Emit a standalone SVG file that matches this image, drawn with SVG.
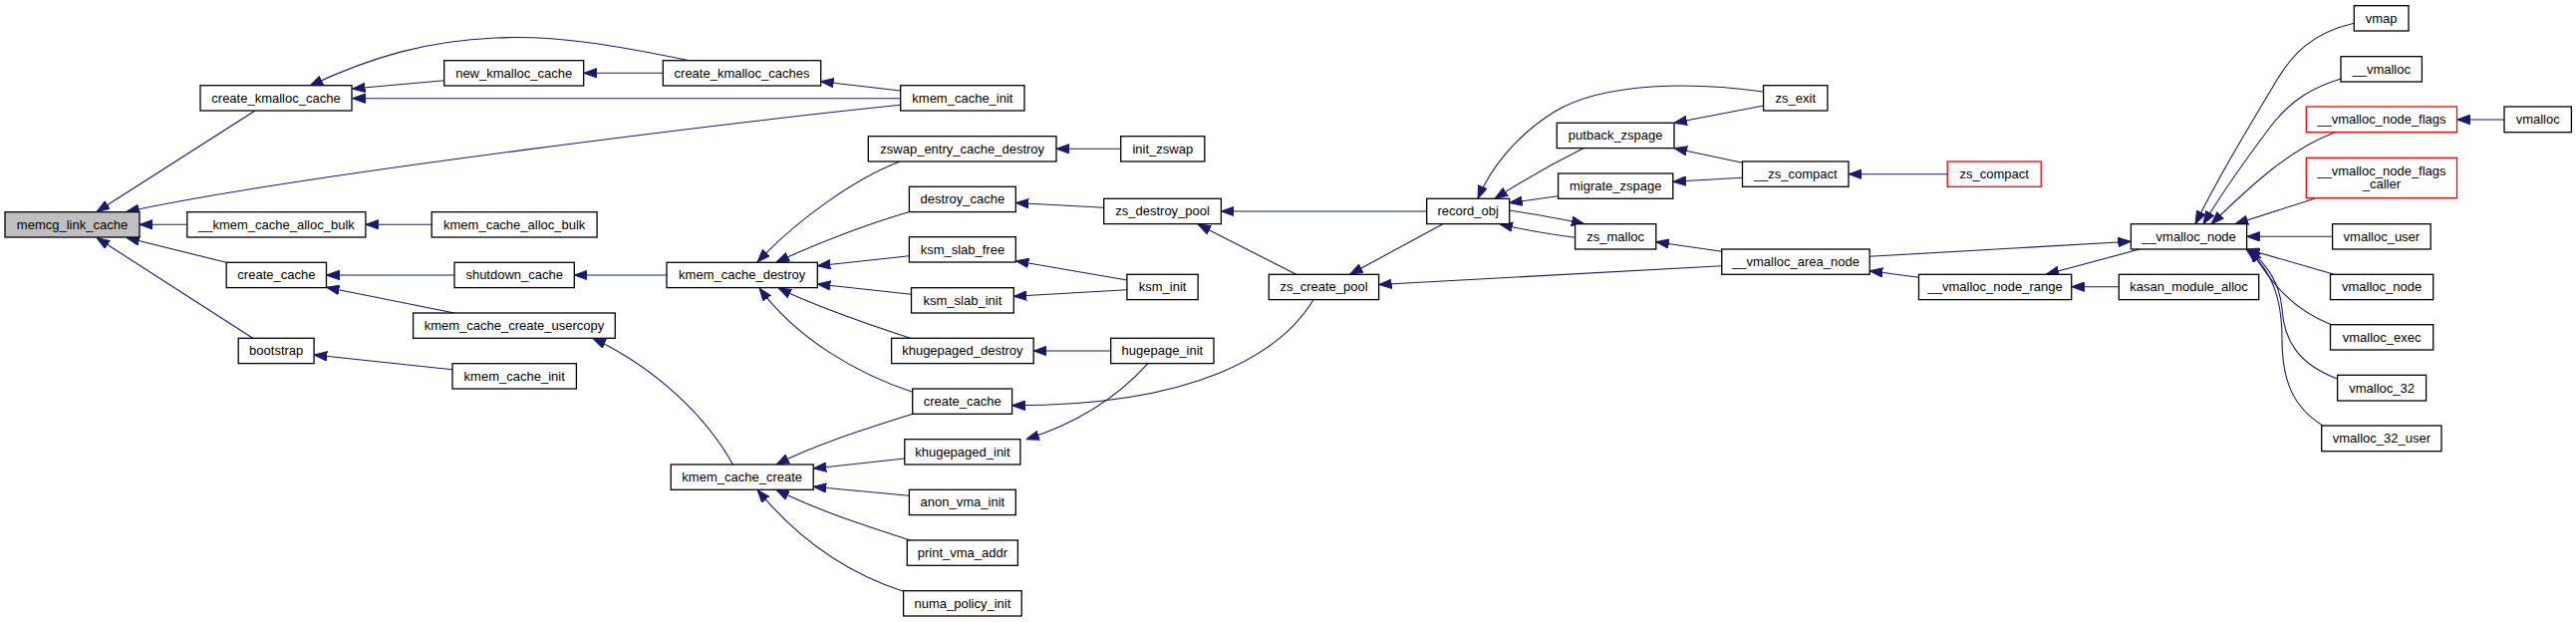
<svg xmlns="http://www.w3.org/2000/svg" width="2585" height="624" viewBox="0 0 2585 624">
<style>
.nd rect{fill:#ffffff;stroke:#000000;stroke-width:1.3}
.nd.root rect{fill:#bfbfbf}
.nd.red rect{stroke:#ff0000}
.nd text{font-family:"Liberation Sans",Arial,Helvetica,sans-serif;font-size:13px;fill:#000000;text-anchor:middle}
#edges path{fill:none;stroke:#191970;stroke-width:1.1;marker-end:url(#ah)}
</style>
<defs>
<marker id="ah" viewBox="0 0 13 10" refX="13" refY="5" markerWidth="13" markerHeight="10" orient="auto" markerUnits="userSpaceOnUse">
<path d="M0,0.3 L13,5 L0,9.7 z" fill="#191970" stroke="#191970" stroke-width="1"/>
</marker>
</defs>
<rect width="2585" height="624" fill="#ffffff"/>
<g id="edges">
<path d="M256,111 L97,212.5"/>
<path d="M903.7,105.3 C760,120 300,175 126.7,212.5"/>
<path d="M187.8,225.3 L140,225.3"/>
<path d="M228,263.5 L127,238.5"/>
<path d="M253.7,339.3 L97,238.5"/>
<path d="M445.7,80.7 L353.5,89"/>
<path d="M691.8,60.7 C620,46 560,35 497,38 C430,41 375,56 311,86"/>
<path d="M903.7,98.7 L353.5,98.7"/>
<path d="M665.3,73.3 L585.8,73.3"/>
<path d="M903.7,91 L823.7,81.7"/>
<path d="M433.2,225.3 L366.9,225.3"/>
<path d="M456,276 L327.5,276"/>
<path d="M456,314 L327.5,288.3"/>
<path d="M454,370.7 L315.2,356"/>
<path d="M669,276 L576.3,276"/>
<path d="M735.4,466 C710,420 660,370 595,339.5"/>
<path d="M903.3,162 C860,178 800,220 760,263"/>
<path d="M913.6,212.3 C880,222 830,240 779,263"/>
<path d="M912.4,256.7 L820.3,266.7"/>
<path d="M914.5,295.3 L820.3,285"/>
<path d="M913.6,339.3 C870,325 820,308 781,289"/>
<path d="M915.7,393.3 C860,375 800,340 762,289"/>
<path d="M1124.7,149.3 L1060,149.3"/>
<path d="M1107.7,208.3 L1019.3,203.5"/>
<path d="M1130.9,281 L1019.3,261.7"/>
<path d="M1130.9,290.7 L1017.3,297.3"/>
<path d="M1114.7,352 L1037.2,352"/>
<path d="M1318,300.7 C1285,355 1200,407 1015.6,406.7"/>
<path d="M1152,364.7 C1120,400 1080,425 1029.7,440.7"/>
<path d="M915.7,415.3 C870,430 820,445 779,466"/>
<path d="M907.8,460 L816.2,470"/>
<path d="M912.4,497.3 L816.2,488.3"/>
<path d="M913.6,542 C870,528 820,512 779,491.3"/>
<path d="M906.6,593.3 C850,575 800,540 760,491.3"/>
<path d="M1431.7,212 L1225.4,212"/>
<path d="M1300.7,275.3 L1202,225"/>
<path d="M1447.9,224.7 L1354.6,275.3"/>
<path d="M1727.8,266.7 L1383.6,285.5"/>
<path d="M1769.6,92 C1700,82 1610,82 1560,112 C1520,137 1495,170 1483,199.3"/>
<path d="M1588.9,148.7 C1560,163 1530,180 1500,199.3"/>
<path d="M1563.6,196.7 L1514.7,203.5"/>
<path d="M1514.7,211 C1540,215 1565,219 1590,224.7"/>
<path d="M1580.6,238.3 C1555,235 1530,231 1505,224.7"/>
<path d="M1769.6,106 L1680,123.3"/>
<path d="M1748.5,163.3 L1680,148.7"/>
<path d="M1748.5,178.3 L1678.8,182.3"/>
<path d="M1727.8,252.3 L1661.8,242.7"/>
<path d="M1954.2,174.7 L1855,174.7"/>
<path d="M1925.5,278.3 L1876.2,271.7"/>
<path d="M1876.2,257.3 L2138.4,242.3"/>
<path d="M2147.2,250 L2053.2,275.3"/>
<path d="M2126.3,287.7 L2078.7,287.7"/>
<path d="M2362.3,23.3 C2320,33 2300,55 2285,80 C2255,130 2225,180 2203,224.7"/>
<path d="M2349,79 C2320,88 2300,100 2280,125 C2255,158 2232,190 2211,224.7"/>
<path d="M2343.5,132.7 C2300,148 2260,185 2219,224.7"/>
<path d="M2322.6,199.3 L2243,224.7"/>
<path d="M2340.6,237.3 L2254.6,237.3"/>
<path d="M2341.4,275 L2254.6,250"/>
<path d="M2339.4,325.7 C2300,310 2280,285 2258,250"/>
<path d="M2345.6,380 C2305,365 2292,340 2290,310 C2288,285 2275,265 2256,250"/>
<path d="M2331,427 C2300,408 2290,380 2290,340 C2290,300 2280,270 2254,250"/>
<path d="M2513,120 L2465.5,120"/>
</g>
<g id="memcg_link_cache" class="nd root"><rect x="5" y="212.7" width="135" height="25.3"/><text x="72.5" y="229.8">memcg_link_cache</text></g>
<g id="create_kmalloc_cache" class="nd"><rect x="201" y="85.7" width="152" height="25.3"/><text x="277" y="102.8">create_kmalloc_cache</text></g>
<g id="new_kmalloc_cache" class="nd"><rect x="445.7" y="60.7" width="140" height="25.3"/><text x="515.7" y="77.8">new_kmalloc_cache</text></g>
<g id="create_kmalloc_caches" class="nd"><rect x="665.3" y="60.7" width="158.4" height="25.3"/><text x="744.5" y="77.8">create_kmalloc_caches</text></g>
<g id="kmem_cache_init_a" class="nd"><rect x="903.7" y="85.7" width="124.3" height="25.3"/><text x="965.9" y="102.8">kmem_cache_init</text></g>
<g id="__kmem_cache_alloc_bulk" class="nd"><rect x="187.8" y="212.7" width="179.1" height="25.3"/><text x="277.4" y="229.8">__kmem_cache_alloc_bulk</text></g>
<g id="kmem_cache_alloc_bulk" class="nd"><rect x="433.2" y="212.7" width="165.9" height="25.3"/><text x="516.2" y="229.8">kmem_cache_alloc_bulk</text></g>
<g id="create_cache_a" class="nd"><rect x="227.2" y="263.3" width="100.3" height="25.3"/><text x="277.4" y="280.4">create_cache</text></g>
<g id="shutdown_cache" class="nd"><rect x="456" y="263.3" width="120.3" height="25.3"/><text x="516.2" y="280.4">shutdown_cache</text></g>
<g id="kmem_cache_create_usercopy" class="nd"><rect x="414.6" y="314" width="202.7" height="25.3"/><text x="516" y="331.1">kmem_cache_create_usercopy</text></g>
<g id="bootstrap" class="nd"><rect x="239.2" y="339.3" width="75.9" height="25.3"/><text x="277.2" y="356.4">bootstrap</text></g>
<g id="kmem_cache_init_b" class="nd"><rect x="454" y="364.7" width="124.4" height="25.3"/><text x="516.2" y="381.8">kmem_cache_init</text></g>
<g id="kmem_cache_destroy" class="nd"><rect x="669" y="263.3" width="151.3" height="25.3"/><text x="744.7" y="280.4">kmem_cache_destroy</text></g>
<g id="zswap_entry_cache_destroy" class="nd"><rect x="871.3" y="136.7" width="188.7" height="25.3"/><text x="965.7" y="153.8">zswap_entry_cache_destroy</text></g>
<g id="init_zswap" class="nd"><rect x="1124.7" y="136.7" width="84.1" height="25.3"/><text x="1166.8" y="153.8">init_zswap</text></g>
<g id="destroy_cache" class="nd"><rect x="912.4" y="187.3" width="106.9" height="25.3"/><text x="965.9" y="204.4">destroy_cache</text></g>
<g id="zs_destroy_pool" class="nd"><rect x="1107.7" y="199.3" width="117.7" height="25.3"/><text x="1166.6" y="216.4">zs_destroy_pool</text></g>
<g id="ksm_slab_free" class="nd"><rect x="912.4" y="237.7" width="106.9" height="25.3"/><text x="965.9" y="254.8">ksm_slab_free</text></g>
<g id="ksm_init" class="nd"><rect x="1130.9" y="275.3" width="71.3" height="25.3"/><text x="1166.6" y="292.4">ksm_init</text></g>
<g id="ksm_slab_init" class="nd"><rect x="914.5" y="288.7" width="102.8" height="25.3"/><text x="965.9" y="305.8">ksm_slab_init</text></g>
<g id="khugepaged_destroy" class="nd"><rect x="894.6" y="339.3" width="142.6" height="25.3"/><text x="965.9" y="356.4">khugepaged_destroy</text></g>
<g id="hugepage_init" class="nd"><rect x="1114.7" y="339.3" width="103.3" height="25.3"/><text x="1166.4" y="356.4">hugepage_init</text></g>
<g id="create_cache_b" class="nd"><rect x="915.7" y="390" width="99.9" height="25.3"/><text x="965.7" y="407.1">create_cache</text></g>
<g id="khugepaged_init" class="nd"><rect x="907.8" y="440.7" width="116.1" height="25.3"/><text x="965.9" y="457.8">khugepaged_init</text></g>
<g id="kmem_cache_create" class="nd"><rect x="673.2" y="466" width="143" height="25.3"/><text x="744.7" y="483.1">kmem_cache_create</text></g>
<g id="anon_vma_init" class="nd"><rect x="912.4" y="491.3" width="106.9" height="25.3"/><text x="965.9" y="508.4">anon_vma_init</text></g>
<g id="print_vma_addr" class="nd"><rect x="910.3" y="542" width="111.1" height="25.3"/><text x="965.9" y="559.1">print_vma_addr</text></g>
<g id="numa_policy_init" class="nd"><rect x="906.6" y="592.7" width="118.6" height="25.3"/><text x="965.9" y="609.8">numa_policy_init</text></g>
<g id="zs_create_pool" class="nd"><rect x="1273.3" y="275.3" width="110.3" height="25.3"/><text x="1328.5" y="292.4">zs_create_pool</text></g>
<g id="record_obj" class="nd"><rect x="1431.7" y="199.3" width="83" height="25.3"/><text x="1473.2" y="216.4">record_obj</text></g>
<g id="zs_exit" class="nd"><rect x="1769.6" y="85.7" width="64.3" height="25.3"/><text x="1801.8" y="102.8">zs_exit</text></g>
<g id="putback_zspage" class="nd"><rect x="1562.3" y="123.3" width="117.7" height="25.3"/><text x="1621.2" y="140.4">putback_zspage</text></g>
<g id="migrate_zspage" class="nd"><rect x="1563.6" y="174" width="115.2" height="25.3"/><text x="1621.2" y="191.1">migrate_zspage</text></g>
<g id="zs_malloc" class="nd"><rect x="1580.6" y="224.7" width="81.2" height="25.3"/><text x="1621.2" y="241.8">zs_malloc</text></g>
<g id="__zs_compact" class="nd"><rect x="1748.5" y="162" width="106.5" height="25.3"/><text x="1801.8" y="179.1">__zs_compact</text></g>
<g id="__vmalloc_area_node" class="nd"><rect x="1727.8" y="250" width="148.4" height="25.3"/><text x="1802" y="267.1">__vmalloc_area_node</text></g>
<g id="zs_compact" class="nd red"><rect x="1954.2" y="162" width="94" height="25.3"/><text x="2001.2" y="179.1">zs_compact</text></g>
<g id="__vmalloc_node" class="nd"><rect x="2138.4" y="224.7" width="116.2" height="25.3"/><text x="2196.5" y="241.8">__vmalloc_node</text></g>
<g id="__vmalloc_node_range" class="nd"><rect x="1925.5" y="275.3" width="153.2" height="25.3"/><text x="2002.1" y="292.4">__vmalloc_node_range</text></g>
<g id="kasan_module_alloc" class="nd"><rect x="2126.3" y="275.3" width="140.4" height="25.3"/><text x="2196.5" y="292.4">kasan_module_alloc</text></g>
<g id="vmap" class="nd"><rect x="2362.3" y="5.7" width="54.7" height="25.3"/><text x="2389.6" y="22.8">vmap</text></g>
<g id="__vmalloc" class="nd"><rect x="2349" y="56.7" width="81.4" height="25.3"/><text x="2389.7" y="73.8">__vmalloc</text></g>
<g id="__vmalloc_node_flags" class="nd red"><rect x="2314.3" y="107" width="151.2" height="25.7"/><text x="2389.9" y="124.3">__vmalloc_node_flags</text></g>
<g id="vmalloc" class="nd"><rect x="2513" y="107" width="67.4" height="25.7"/><text x="2546.7" y="124.3">vmalloc</text></g>
<g id="__vmalloc_node_flags_caller" class="nd red"><rect x="2314.3" y="158.3" width="151.2" height="40.4"/><text x="2389.9" y="175.7">__vmalloc_node_flags</text><text x="2389.9" y="189.3">_caller</text></g>
<g id="vmalloc_user" class="nd"><rect x="2340.6" y="224.7" width="98.6" height="25.3"/><text x="2389.9" y="241.8">vmalloc_user</text></g>
<g id="vmalloc_node" class="nd"><rect x="2338.5" y="275.3" width="103.2" height="25.3"/><text x="2390.1" y="292.4">vmalloc_node</text></g>
<g id="vmalloc_exec" class="nd"><rect x="2338.5" y="325.7" width="103.2" height="25.3"/><text x="2390.1" y="342.8">vmalloc_exec</text></g>
<g id="vmalloc_32" class="nd"><rect x="2345.6" y="376.3" width="89" height="25.7"/><text x="2390.1" y="393.6">vmalloc_32</text></g>
<g id="vmalloc_32_user" class="nd"><rect x="2329.7" y="427" width="120.3" height="25.7"/><text x="2389.9" y="444.3">vmalloc_32_user</text></g>
</svg>
